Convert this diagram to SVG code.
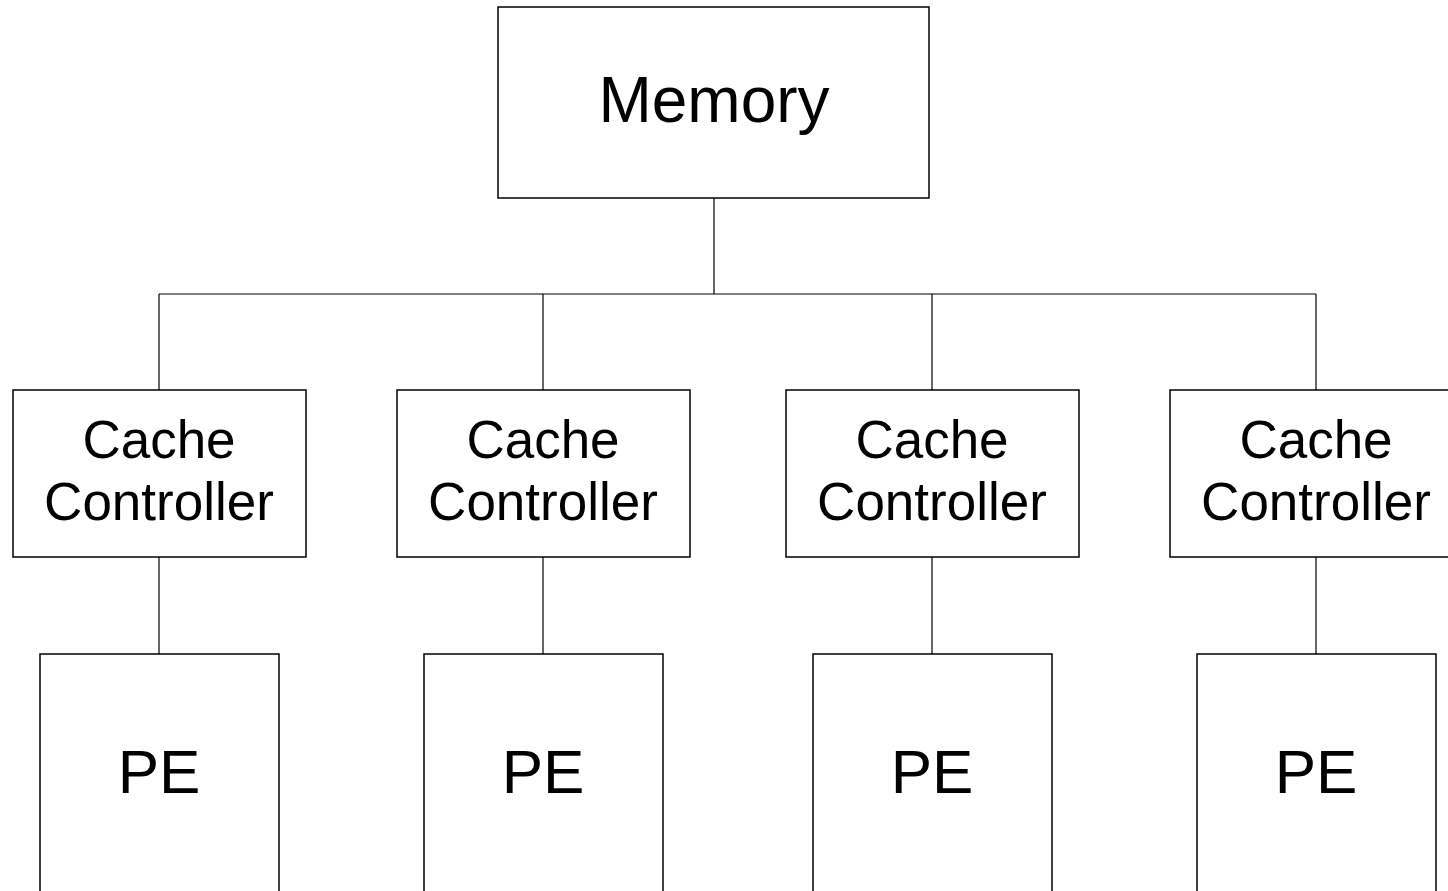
<svg xmlns="http://www.w3.org/2000/svg" width="1448" height="891" viewBox="0 0 1448 891">
<style>
.box{fill:#fff;stroke:#000;stroke-width:1.5}
.wire{fill:none;stroke:#000;stroke-width:1.2}
text{font-family:"Liberation Sans",Arial,sans-serif;fill:#000;text-anchor:middle}
.big{font-size:64px}
.pe{font-size:62px}
.mid{font-size:53px}
</style>
<rect width="1448" height="891" fill="#fff"/>
<g id="connectors">
<path class="wire" d="M714 198V294M159 294H1316M159 294V390M543 294V390M932 294V390M1316 294V390M159 557V654M543 557V654M932 557V654M1316 557V654"/>
</g>
<g id="memory"><rect class="box" x="498" y="7" width="431" height="191"/><text class="big" x="714" y="122">Memory</text></g>
<g id="cc1"><rect class="box" x="13" y="390" width="293" height="167"/><text class="mid" x="159" y="458">Cache</text><text class="mid" x="159" y="520">Controller</text></g>
<g id="cc2"><rect class="box" x="397" y="390" width="293" height="167"/><text class="mid" x="543" y="458">Cache</text><text class="mid" x="543" y="520">Controller</text></g>
<g id="cc3"><rect class="box" x="786" y="390" width="293" height="167"/><text class="mid" x="932" y="458">Cache</text><text class="mid" x="932" y="520">Controller</text></g>
<g id="cc4"><rect class="box" x="1170" y="390" width="293" height="167"/><text class="mid" x="1316" y="458">Cache</text><text class="mid" x="1316" y="520">Controller</text></g>
<g id="pe1"><rect class="box" x="40" y="654" width="239" height="260"/><text class="pe" x="159" y="793">PE</text></g>
<g id="pe2"><rect class="box" x="424" y="654" width="239" height="260"/><text class="pe" x="543" y="793">PE</text></g>
<g id="pe3"><rect class="box" x="813" y="654" width="239" height="260"/><text class="pe" x="932" y="793">PE</text></g>
<g id="pe4"><rect class="box" x="1197" y="654" width="239" height="260"/><text class="pe" x="1316" y="793">PE</text></g>
</svg>
